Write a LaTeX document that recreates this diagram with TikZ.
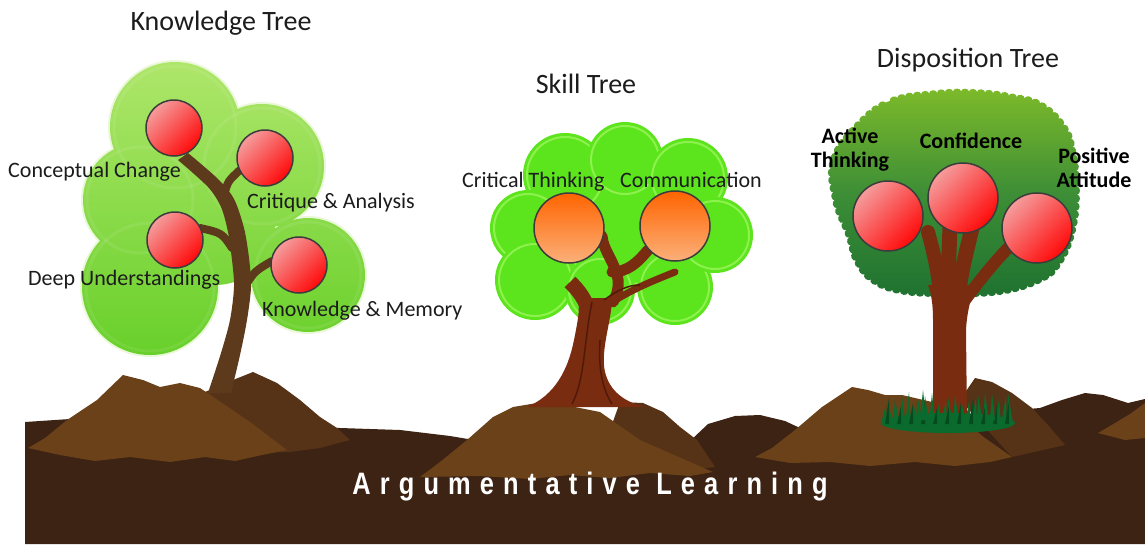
\documentclass[tikz,border=0pt]{standalone}
\usepackage{fontspec}
\setmainfont{Carlito}
\newfontfamily\soilfont[LetterSpace=36, UprightFont={* Bold}]{Liberation Sans}
\usetikzlibrary{decorations.pathmorphing}

\definecolor{soil}{HTML}{3D2314}
\definecolor{moundlight}{HTML}{6A4118}
\definecolor{moundshade}{HTML}{563217}
\definecolor{kbark}{HTML}{5E3A1C}
\definecolor{rbark}{HTML}{7A2C10}
\definecolor{rbarkdark}{HTML}{4F1A07}
\definecolor{lime}{HTML}{5CE41C}
\definecolor{limerim}{HTML}{8EF24E}
\definecolor{leafhi}{HTML}{AEE66A}
\definecolor{leaflo}{HTML}{68D02A}
\definecolor{oaktop}{HTML}{7DBA2A}
\definecolor{oakmid}{HTML}{3D8E36}
\definecolor{oakbot}{HTML}{1F7230}
\definecolor{grass}{HTML}{0B6A2D}
\definecolor{grassdark}{HTML}{064B1E}
\definecolor{fruitlight}{HTML}{F59C9C}
\definecolor{fruitred}{HTML}{FF0A0A}
\definecolor{peachtop}{HTML}{FF6400}
\definecolor{peachbot}{HTML}{FBB07A}
\definecolor{rind}{HTML}{3C3C3C}
\definecolor{ink}{HTML}{1C1C1C}

\tikzset{
  treetitle/.style={font=\fontsize{28}{30}\selectfont, text=ink, inner sep=0pt},
  fruitlabel/.style={font=\fontsize{22}{24}\selectfont, text=ink, inner sep=0pt},
  boldlabel/.style={font=\fontsize{22}{24}\selectfont\bfseries, text=black, align=center, inner sep=0pt},
  redfruit/.style={draw=rind, line width=1.5pt, top color=fruitlight, bottom color=fruitred, shading angle=45},
  peachfruit/.style={draw=rind, line width=1.5pt, top color=peachtop, bottom color=peachbot},
  branch/.style={line width=#1, line cap=round},
}

\begin{document}
\begin{tikzpicture}[x=1pt, y=-1pt]
\useasboundingbox (0,0) rectangle (1145,544);
\fill[white] (0,0) rectangle (1145,544);

% ---------- soil and mounds ----------
\fill[soil] (25,544) -- (25,422) -- (70,419) -- (340,428) -- (400,430) -- (450,436)
  -- (480,441) -- (690,441) -- (708,424) -- (735,416) -- (760,415) -- (785,421)
  -- (800,428) -- (1040,408) -- (1062,400) -- (1085,393) -- (1103,395) -- (1128,403)
  -- (1145,399) -- (1145,544) -- cycle;

\fill[moundshade] (175,455) -- (205,392) -- (233,380) -- (253,372) -- (277,383) -- (300,400)
  -- (320,417) -- (337,428) -- (350,440) -- (320,448) -- (290,452) -- cycle;
\fill[moundlight] (28,448) -- (45,438) -- (67,420) -- (97,400) -- (123,375) -- (143,380)
  -- (160,387) -- (180,383) -- (200,388) -- (215,398) -- (250,422) -- (287,450) -- (262,455)
  -- (235,461) -- (205,457) -- (170,462) -- (130,457) -- (95,461) -- (60,455) -- cycle;

\fill[moundshade] (610,430) -- (620,402) -- (643,403) -- (663,412) -- (680,427) -- (697,440)
  -- (715,467) -- (690,470) -- cycle;
\fill[moundlight] (420,477) -- (440,462) -- (467,440) -- (493,417) -- (513,407) -- (537,403)
  -- (560,404) -- (600,412) -- (640,440) -- (713,472) -- (690,476) -- (650,473) -- (610,478)
  -- (570,475) -- (530,479) -- (480,476) -- cycle;

\fill[moundshade] (960,400) -- (975,378) -- (992,382) -- (1012,393) -- (1032,408) -- (1048,425)
  -- (1065,445) -- (1012,457) -- cycle;
\fill[moundlight] (755,457) -- (772,448) -- (795,430) -- (822,407) -- (852,387) -- (868,390)
  -- (885,395) -- (902,395) -- (945,405) -- (985,438) -- (1012,457) -- (990,462) -- (955,466)
  -- (915,462) -- (870,466) -- (830,462) -- (790,463) -- cycle;

\fill[moundlight] (1098,433) -- (1115,423) -- (1130,414) -- (1145,403) -- (1145,438)
  -- (1125,440) -- cycle;

% ---------- knowledge tree ----------
\fill[leafhi, opacity=0.25]
  (175,127) circle[radius=67pt] (262,166) circle[radius=64pt] (140,200) circle[radius=59pt]
  (150,287) circle[radius=70pt] (308,275) circle[radius=59pt] (215,225) circle[radius=60pt];
\shade[top color=leafhi, bottom color=leaflo]
  (175,127) circle[radius=65pt] (262,166) circle[radius=62pt] (140,200) circle[radius=57pt]
  (150,287) circle[radius=68pt] (308,275) circle[radius=57pt] (215,225) circle[radius=60pt];
\foreach \cx/\cy/\rr in {175/127/61, 262/166/58, 140/200/53, 150/287/64, 308/275/53}
  \draw[white, opacity=0.08, line width=3pt] (\cx,\cy) circle[radius=\rr pt];

\fill[kbark]
  plot[smooth] coordinates {(178,160) (208,187) (221,207) (228,232) (232,260) (234,287)
    (230,320) (221,353) (208,393)}
  -- plot[smooth] coordinates {(231,393) (240,355) (247,320) (251,287) (249,258) (244,228)
    (234,199) (218,179) (188,153)} -- cycle;
\draw[kbark, branch=8pt] (224,195) .. controls (228,181) .. (240,170);
\draw[kbark, branch=8pt] (232,248) .. controls (222,233) .. (200,228);
\draw[kbark, branch=8pt] (245,286) .. controls (255,271) .. (272,261);

\shade[redfruit] (174,128) circle[radius=28pt];
\shade[redfruit] (265,158) circle[radius=28pt];
\shade[redfruit] (175,240) circle[radius=28pt];
\shade[redfruit] (299,265) circle[radius=28pt];

% ---------- skill tree ----------
\foreach \cx/\cy/\rr/\ri in {620/230/60/56, 565/175/42/38, 625/160/38/34, 688/178/40/36,
    528/228/38/34, 535/280/40/36, 600/290/35/31, 675/287/38/34, 715/235/38/34} {
  \fill[lime] (\cx,\cy) circle[radius=\rr pt];
  \draw[limerim, line width=2pt] (\cx,\cy) circle[radius=\ri pt];
}

\fill[rbark] (527,407) .. controls (555,395) and (568,370) .. (574,340)
  .. controls (578,320) and (580,310) .. (578,298) -- (612,298)
  .. controls (612,320) and (600,350) .. (605,372)
  .. controls (610,392) and (625,402) .. (645,407) -- cycle;
\draw[rbark, line width=15pt] (590,314) .. controls (585,298) and (578,290) .. (570,282);
\draw[rbark, branch=11pt] (613,302) .. controls (622,285) and (618,275) .. (612,262)
  .. controls (606,250) and (603,245) .. (602,236);
\draw[rbark, branch=11pt] (612,272) .. controls (628,272) and (638,262) .. (648,250);
\draw[rbark, branch=7pt] (606,306) .. controls (630,290) and (650,282) .. (675,272);
\draw[rbarkdark, line width=1.5pt] (592,302) .. controls (584,340) and (585,380) .. (572,404);
\draw[rbarkdark, line width=1.5pt] (600,340) .. controls (598,370) and (603,390) .. (612,404);
\draw[rbarkdark, line width=1.5pt] (604,300) .. controls (618,290) and (628,285) .. (640,285);

\shade[peachfruit] (569,228) circle[radius=35pt];
\shade[peachfruit] (675,226) circle[radius=35pt];

% ---------- disposition tree ----------
\shade[top color=oaktop, bottom color=oakbot, middle color=oakmid,
  decorate, decoration={bumps, segment length=16pt, amplitude=3pt}]
  plot[smooth cycle, tension=0.7] coordinates {(857,125) (890,101) (935,93) (975,92)
    (1010,96) (1040,104) (1063,125) (1073,150) (1077,190) (1073,230) (1060,262) (1040,280)
    (1000,292) (950,294) (905,292) (875,282) (857,262) (848,235) (835,200) (833,160)};

\fill[rbark] (933,424) -- (933,320) .. controls (933,300) and (930,290) .. (928,285)
  -- (975,285) .. controls (972,295) and (967,310) .. (966,330) -- (967,424) -- cycle;
\draw[rbark, branch=14pt] (940,295) .. controls (938,270) and (933,250) .. (928,232);
\draw[rbark, branch=15pt] (947,300) -- (950,228);
\draw[rbark, branch=15pt] (958,295) .. controls (962,270) .. (972,228);
\draw[rbark, branch=12pt] (965,300) .. controls (980,280) and (992,265) .. (1008,248);

\shade[redfruit] (888,216) circle[radius=35pt];
\shade[redfruit] (963,198) circle[radius=35pt];
\shade[redfruit] (1037,228) circle[radius=35pt];

% grass tuft round the trunk foot
\fill[grass] (948,423) ellipse[x radius=67pt, y radius=10pt];
\foreach \gx in {884,890,...,1012}
  \fill[grass] (\gx-3,424) -- ({\gx+mod(\gx,5)-2},{404-mod(\gx*7,13)}) -- (\gx+3,424) -- cycle;
\foreach \gx in {887,899,...,1011}
  \fill[grassdark] (\gx-2,424) -- ({\gx+mod(\gx,4)-1},{408-mod(\gx*3,11)}) -- (\gx+2,424) -- cycle;
\fill[grass] (920,420) -- (923,390) -- (926,420) -- cycle;
\fill[grass] (990,420) -- (992,393) -- (995,420) -- cycle;

% ---------- texts ----------
\node[treetitle, anchor=base] (ktitle) at (221,30) {Knowledge Tree};
\node[treetitle, anchor=base] (stitle) at (586,93) {Skill Tree};
\node[treetitle, anchor=base] (dtitle) at (968,67) {Disposition Tree};

\node[fruitlabel, anchor=base west] (kconcept) at (8,177) {Conceptual Change};
\node[fruitlabel, anchor=base west] (kcritique) at (247,208) {Critique \& Analysis};
\node[fruitlabel, anchor=base west] (kdeep) at (28,285) {Deep Understandings};
\node[fruitlabel, anchor=base west] (kmemory) at (262,316) {Knowledge \& Memory};

\node[fruitlabel, anchor=base west] (scritical) at (462,187) {Critical Thinking};
\node[fruitlabel, anchor=base west] (scomm) at (620,187) {Communication};

\node[boldlabel] (dactive) at (850,150) {Active\\Thinking};
\node[boldlabel, anchor=base] (dconf) at (971,148) {Confidence};
\node[boldlabel] (dpositive) at (1094,168) {Positive\\Attitude};

\node[inner sep=0pt, text=white, font=\soilfont\fontsize{31}{33}\selectfont]
  (motto) at (590,487) {\scalebox{0.82}[1]{Argumentative Learning}};
\end{tikzpicture}
\end{document}
